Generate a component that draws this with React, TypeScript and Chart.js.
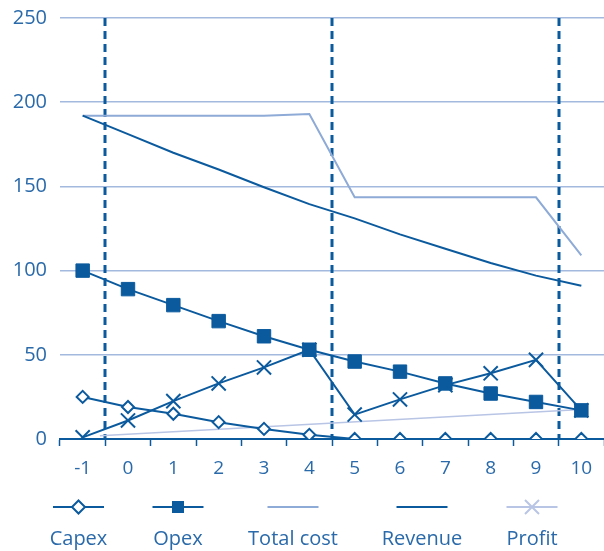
import { useEffect, useRef } from 'react';
import { Chart, registerables } from 'chart.js';

Chart.register(...registerables);

// Project years, -1 is the build year
const years = ['-1', '0', '1', '2', '3', '4', '5', '6', '7', '8', '9', '10'];

const capex = [25, 19, 15, 10, 6, 2.5, 0, 0, 0, 0, 0, 0];
const opex = [100, 89, 79.5, 70, 61, 53, 46, 40, 33, 27, 22, 17];
const totalCost = [192, 192, 192, 192, 192, 193, 143.5, 143.5, 143.5, 143.5, 143.5, 109];
const revenue = [192, 181, 170, 160, 149.5, 139.5, 131, 121.5, 113, 104.5, 97, 91];
const profit = [1, 11, 22.5, 33, 42.5, 53, 14.5, 23.5, 32, 39, 47, 17];

// Straight profit trend, positioned on a continuous year axis
const trendYears = [-0.62, 10];
const trendValues = [2, 17.5];

// Year boundaries where a new phase begins (index of the year before the break)
const phaseBreaks = [0, 5, 10];

const Y_MIN = 0;
const Y_MAX = 250;
const Y_STEP = 50;

const legendLabels = ['Capex', 'Opex', 'Total cost', 'Revenue', 'Profit'];

const DARK = '#0b5a9e';
const LIGHT = '#8eaad6';
const PALE = '#b9c5e5';
const GRID = '#a3b9de';
const TEXT = '#2a6aaa';
const FONT = "'Open Sans', sans-serif";

// Legend layout: symbol row above, label row below
const LEGEND_CENTERS = [78.5, 178, 293, 422, 532];
const LEGEND_SYMBOL_Y = 507;
const LEGEND_TEXT_Y = 539;
const LEGEND_LINE_HALF = 25.5;

const phaseDividers = {
  id: 'phaseDividers',
  beforeDatasetsDraw(chart: any) {
    const { ctx, chartArea, scales } = chart;
    const xs = scales.x;
    ctx.save();
    ctx.strokeStyle = DARK;
    ctx.lineWidth = 3;
    ctx.setLineDash([8, 5]);
    phaseBreaks.forEach((i) => {
      const px = Math.round((xs.getPixelForValue(i) + xs.getPixelForValue(i + 1)) / 2);
      ctx.beginPath();
      ctx.moveTo(px, chartArea.top);
      ctx.lineTo(px, chartArea.bottom);
      ctx.stroke();
    });
    ctx.restore();
  },
};

const stackedLegend = {
  id: 'stackedLegend',
  afterDraw(chart: any) {
    const { ctx } = chart;
    const styles = [
      { color: DARK, marker: 'diamond' },
      { color: DARK, marker: 'square' },
      { color: LIGHT, marker: 'none' },
      { color: DARK, marker: 'none' },
      { color: PALE, marker: 'cross' },
    ];
    ctx.save();
    legendLabels.forEach((label, i) => {
      const cx = LEGEND_CENTERS[i];
      const cy = LEGEND_SYMBOL_Y;
      const st = styles[i];
      ctx.setLineDash([]);
      ctx.strokeStyle = st.color;
      ctx.lineWidth = 2;
      ctx.beginPath();
      ctx.moveTo(cx - LEGEND_LINE_HALF, cy);
      ctx.lineTo(cx + LEGEND_LINE_HALF, cy);
      ctx.stroke();
      if (st.marker === 'diamond') {
        const r = 6.5;
        ctx.beginPath();
        ctx.moveTo(cx, cy - r);
        ctx.lineTo(cx + r, cy);
        ctx.lineTo(cx, cy + r);
        ctx.lineTo(cx - r, cy);
        ctx.closePath();
        ctx.fillStyle = '#ffffff';
        ctx.fill();
        ctx.stroke();
      } else if (st.marker === 'square') {
        ctx.fillStyle = st.color;
        ctx.fillRect(cx - 6, cy - 6, 12, 12);
      } else if (st.marker === 'cross') {
        const h = 7;
        ctx.beginPath();
        ctx.moveTo(cx - h, cy - h);
        ctx.lineTo(cx + h, cy + h);
        ctx.moveTo(cx + h, cy - h);
        ctx.lineTo(cx - h, cy + h);
        ctx.stroke();
      }
      ctx.fillStyle = TEXT;
      ctx.font = `20px ${FONT}`;
      ctx.textAlign = 'center';
      ctx.textBaseline = 'middle';
      ctx.fillText(label, cx, LEGEND_TEXT_Y);
    });
    ctx.restore();
  },
};

const noPadding = (s: any) => {
  s.paddingTop = 0;
  s.paddingBottom = 0;
  s.paddingLeft = 0;
  s.paddingRight = 0;
};

export default function App() {
  const canvasRef = useRef<HTMLCanvasElement | null>(null);

  useEffect(() => {
    const canvas = canvasRef.current;
    if (!canvas) return;

    const chart = new Chart(canvas, {
      type: 'line',
      data: {
        labels: years,
        datasets: [
          {
            label: 'Capex',
            data: capex,
            borderColor: DARK,
            borderWidth: 2,
            backgroundColor: '#ffffff',
            pointStyle: 'rectRot',
            pointRadius: 6,
            pointBorderWidth: 2,
            pointBorderColor: DARK,
            pointBackgroundColor: '#ffffff',
            tension: 0,
          },
          {
            label: 'Opex',
            data: opex,
            borderColor: DARK,
            borderWidth: 2,
            pointStyle: 'rect',
            pointRadius: 9.5,
            pointBorderWidth: 1,
            pointBorderColor: DARK,
            pointBackgroundColor: DARK,
            tension: 0,
          },
          {
            label: 'Profit',
            data: profit,
            borderColor: DARK,
            borderWidth: 2,
            pointStyle: 'crossRot',
            pointRadius: 10,
            pointBorderWidth: 2,
            pointBorderColor: DARK,
            tension: 0,
          },
          {
            label: 'Revenue',
            data: revenue,
            borderColor: DARK,
            borderWidth: 2,
            pointRadius: 0,
            tension: 0,
          },
          {
            label: 'Total cost',
            data: totalCost,
            borderColor: LIGHT,
            borderWidth: 2,
            pointRadius: 0,
            tension: 0,
          },
          {
            label: 'Profit trend',
            data: trendYears.map((x, i) => ({ x, y: trendValues[i] })),
            xAxisID: 'xt',
            borderColor: PALE,
            borderWidth: 1.5,
            pointRadius: 0,
            tension: 0,
          },
        ],
      } as any,
      options: {
        animation: false,
        responsive: false,
        events: [],
        layout: { autoPadding: false, padding: { top: 18, right: 0, left: 0, bottom: 0 } },
        plugins: {
          legend: { display: false },
          tooltip: { enabled: false },
        },
        scales: {
          x: {
            type: 'category',
            offset: true,
            grid: {
              display: true,
              offset: true,
              drawOnChartArea: false,
              drawTicks: true,
              tickLength: 7,
              tickColor: DARK,
              tickWidth: 1.5,
            },
            border: { display: true, color: DARK, width: 2 },
            ticks: {
              color: TEXT,
              font: { family: FONT, size: 19 },
              padding: 11,
              maxRotation: 0,
              autoSkip: false,
            },
            afterFit: (s: any) => {
              s.height = 112;
              noPadding(s);
            },
          },
          xt: {
            type: 'linear',
            display: false,
            min: -1.5,
            max: 10.5,
            ticks: { display: false },
            grid: { display: false },
            afterFit: (s: any) => {
              s.height = 0;
              noPadding(s);
            },
          },
          y: {
            min: Y_MIN,
            max: Y_MAX,
            ticks: {
              stepSize: Y_STEP,
              color: TEXT,
              font: { family: FONT, size: 20 },
              padding: 13,
            },
            grid: { color: GRID, lineWidth: 1.5, drawTicks: false },
            border: { display: false },
            afterFit: (s: any) => {
              s.width = 60;
              noPadding(s);
            },
          },
        },
      } as any,
      plugins: [phaseDividers, stackedLegend],
    });

    return () => chart.destroy();
  }, []);

  return (
    <div style={{ position: 'absolute', left: 0, top: 0, width: 604, height: 551, background: '#ffffff' }}>
      <canvas ref={canvasRef} width={604} height={551} style={{ width: 604, height: 551, display: 'block' }} />
    </div>
  );
}
